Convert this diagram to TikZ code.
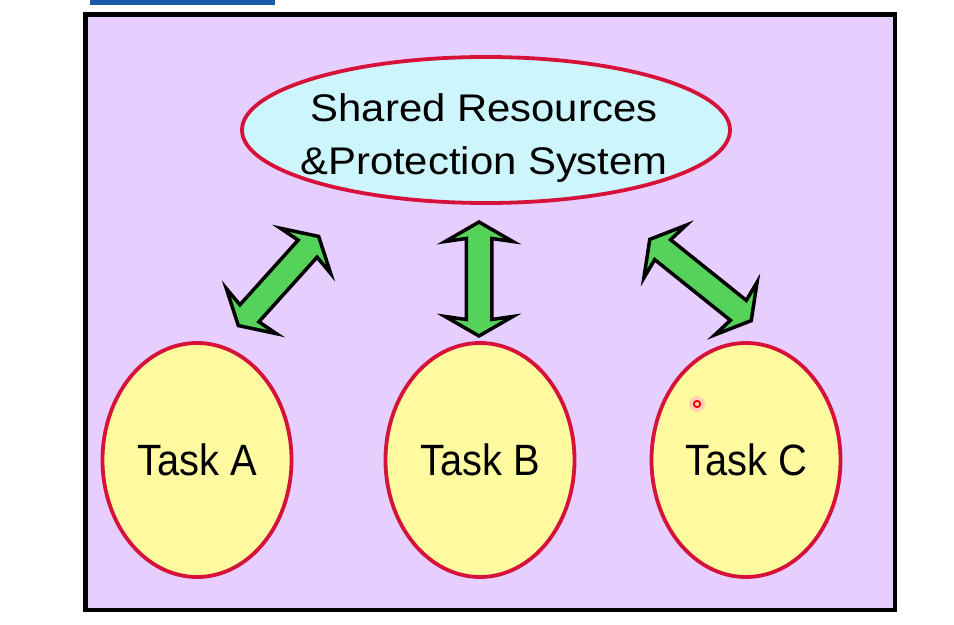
\documentclass[tikz,border=0pt]{standalone}
\usepackage{fontspec}
\setmainfont{Liberation Sans}
\usetikzlibrary{shapes.geometric,shapes.arrows}
\definecolor{lav}{RGB}{230,207,255}
\definecolor{skyfill}{RGB}{204,245,252}
\definecolor{yel}{RGB}{255,250,160}
\definecolor{redline}{RGB}{214,18,58}
\definecolor{agreen}{RGB}{85,210,90}
\definecolor{logoblue}{RGB}{30,90,170}
\begin{document}
\begin{tikzpicture}[x=1bp,y=-1bp,
  res/.style={ellipse, draw=redline, line width=3.8bp, fill=skyfill, inner sep=0pt,
    minimum width=488bp, minimum height=146bp},
  restext/.style={align=center, inner sep=0pt, font=\fontsize{42}{50}\selectfont},
  task/.style={ellipse, draw=redline, line width=3.8bp, fill=yel, inner sep=0pt,
    minimum width=189bp, minimum height=234bp,
    font=\fontsize{40}{48}\selectfont},
  dblarrow/.style={double arrow, draw=black, fill=agreen, line width=3.5bp,
    inner sep=0pt, minimum width=0pt, double arrow head extend=21bp,
    double arrow tip angle=120, double arrow head indent=3bp}
]
\useasboundingbox (0,0) rectangle (954,625);
\fill[white] (0,0) rectangle (954,625);
\fill[logoblue] (90,0) rectangle (275,5);
\draw[line width=4.5bp, fill=lav] (85.5,14.5) rectangle (895,610);

\node[res] (res) at (486,130) {};
\node[restext] (rest) at (484,138) {\scalebox{1}[0.92]{Shared Resources}\\[4bp]\scalebox{1}[0.92]{\&Protection System}};
\node[task] (ta) at (197,460) {\scalebox{1}[1.1]{Task A}};
\node[task] (tb) at (480,460) {\scalebox{1}[1.1]{Task B}};
\node[task] (tc) at (746,460) {\scalebox{1}[1.1]{Task C}};

\node[dblarrow, rotate=48, minimum height=120bp] (aa) at (278.5,281) {\rule{0pt}{22bp}};
\node[dblarrow, rotate=90, minimum height=114bp] (ab) at (479,279) {\rule{0pt}{22bp}};
\node[dblarrow, rotate=-38.7, minimum height=130bp] (ac) at (700.5,280) {\rule{0pt}{22bp}};

\fill[red!25, opacity=0.7] (697,404) circle (8bp);
\draw[red, line width=1.8bp] (697,404) circle (3.2bp);
\end{tikzpicture}
\end{document}
